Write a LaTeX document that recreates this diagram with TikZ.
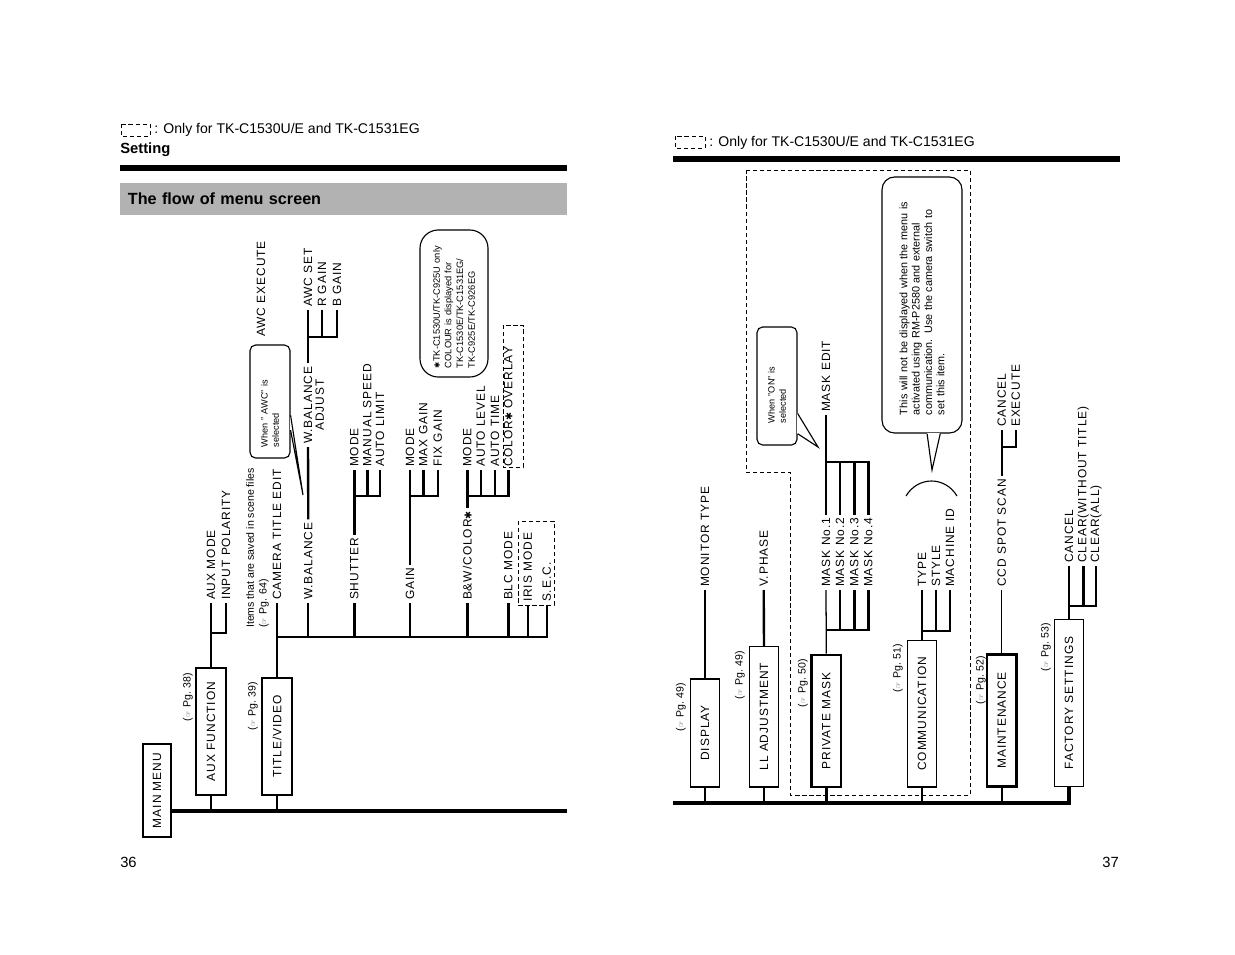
\documentclass[tikz,border=0pt]{standalone}
\usepackage{fontspec}
\setmainfont{Liberation Sans}
\newfontfamily\labfont[LetterSpace=8]{Liberation Sans}
\newfontfamily\symfont{DejaVu Sans}
\newfontfamily\smallsym[Scale=0.8]{DejaVu Sans}
\usetikzlibrary{calc}
\newcommand\labsize{\labfont\fontsize{8.5pt}{10pt}\selectfont}
\newcommand\notesize{\fontsize{6.5pt}{8pt}\selectfont}
\newcommand\hastr{{\smallsym ✱}}
\newcommand\handref[1]{({\symfont\fontsize{5pt}{5pt}\selectfont ☞}\,\,Pg. #1)}
\definecolor{headgray}{gray}{0.70}
\tikzset{
  lab/.style={rotate=90, anchor=west, inner xsep=2pt, inner ysep=1pt, font=\labsize},
  menubox/.style={draw, rotate=90, line width=1.1pt, font=\labsize, inner sep=0pt, minimum height=0.73cm},
  pgnote/.style={rotate=90, inner sep=0pt, font=\fontsize{7.5pt}{9pt}\selectfont},
  conn/.style={line width=1.7pt},
  thinconn/.style={line width=0.9pt},
  busline/.style={line width=2.2pt},
  onlybox/.style={draw, line width=0.7pt, dash pattern=on 3pt off 2pt},
  callout/.style={draw, fill=white, rotate=90, line width=0.8pt, rounded corners=4pt, align=left, inner sep=0pt, font=\notesize},
}

\begin{document}
\begin{tikzpicture}[x=0.025cm, y=-0.025cm]
  \useasboundingbox (0,0) rectangle (1235,954);

  % ---------- page 36 ----------
  \draw[onlybox] (121,124) rectangle (150,136);
  \node[anchor=west, inner sep=0pt, font=\fontsize{10pt}{12pt}\selectfont] (onlyl) at (154,130) {: Only for TK-C1530U/E and TK-C1531EG};
  \node[anchor=west, inner sep=0pt, font=\bfseries\fontsize{10.5pt}{12pt}\selectfont] (setting) at (120,150) {Setting};
  \fill (120,165) rectangle (567,171);
  \node[fill=headgray, minimum width=11.175cm, minimum height=0.8cm, inner xsep=0.2cm, text width=10.775cm, align=left,
    font=\bfseries\fontsize{11.5pt}{13pt}\selectfont] (flowbar) at (343.5,199) {The flow of menu screen};

  \node[menubox, line width=1.8pt, minimum width=2.325cm, minimum height=0.7cm] (mainmenu) at (157,790.5) {MAIN MENU};
  \node[menubox, minimum width=3.175cm, minimum height=0.75cm] (auxfn) at (211,731.5) {AUX FUNCTION};
  \node[menubox, minimum width=2.925cm, minimum height=0.75cm] (titlevid) at (277,736.5) {TITLE/VIDEO};
  \node[pgnote] (pg38) at (188,697) {\handref{38}};
  \node[pgnote] (pg39) at (253,706) {\handref{39}};
  \coordinate (lbus) at (567,811);
  \draw[busline] (mainmenu.south |- lbus) -- (lbus);
  \draw[conn] (auxfn.west) -- (auxfn.west |- lbus);
  \draw[conn] (titlevid.west) -- (titlevid.west |- lbus);

  % aux function
  \node[lab] (auxmode) at (211,603) {AUX MODE};
  \node[lab] (inpol) at (226,603) {INPUT POLARITY};
  \draw[conn] (auxfn.east) -- (auxmode.west);
  \draw[conn] (auxfn.east |- 0,633) -| (inpol.west);

  % title/video
  \node[rotate=90, anchor=north west, align=left, inner sep=0pt, font=\fontsize{7.5pt}{9pt}\selectfont] (scenenote)
    at (246,628) {Items that are saved in scene files\\\handref{64}};
  \coordinate (tvbus) at (277,637);
  \node[lab] (camtitle) at (277,603) {CAMERA TITLE EDIT};
  \node[lab] (wbal) at (308.3,603) {W.BALANCE};
  \node[lab] (shutter) at (354.3,603) {SHUTTER};
  \node[lab] (gain) at (410,603) {GAIN};
  \node[lab] (bwcolor) at (467.3,603) {B\&W/COLOR\hastr};
  \node[lab] (blc) at (508.3,603) {BLC MODE};
  \node[lab] (iris) at (527.7,605) {IRIS MODE};
  \node[lab] (sec) at (546.7,605) {S.E.C.};
  \draw[conn] (titlevid.east) -- (camtitle.west);
  \foreach \n in {wbal,shutter,gain,bwcolor,blc,iris,sec}
    \draw[conn] (tvbus) -| (\n.west);
  \draw[onlybox] (518,521) rectangle (554,605);

  % w.balance
  \node[lab] (wbadj) at (308,447) {W.BALANCE};
  \node[rotate=90, anchor=north, inner sep=1pt, font=\labsize] (adjust) at (wbadj.south) {ADJUST};
  \node[lab] (awcset) at (308,310) {AWC SET};
  \node[lab] (rgain) at (322,310) {R GAIN};
  \node[lab] (bgain) at (337,310) {B GAIN};
  \node[lab] (awcexec) at (261,340) {AWC EXECUTE};
  \draw[conn] (wbal.east) -- (wbadj.west);
  \draw[conn] (wbadj.east) -- (awcset.west);
  \draw[conn] (wbadj.east |- 0,337) -| (rgain.west);
  \draw[conn] (wbadj.east |- 0,337) -| (bgain.west);
  \node[callout, minimum width=2.825cm, minimum height=1.0cm, text width=2.275cm] (awcnote) at (270,401.5) {When " AWC" is\\selected};
  \coordinate (awctip) at (303,495);
  \coordinate (awca) at ($(awcnote.south west)!0.25!(awcnote.south east)$);
  \coordinate (awcb) at ($(awcnote.south west)!0.38!(awcnote.south east)$);
  \draw[white, line width=1.4pt] (awca) -- (awcb);
  \draw[line width=0.8pt] (awca) -- (awctip) -- (awcb);

  % shutter
  \node[lab] (smode) at (354.3,470) {MODE};
  \node[lab] (mspeed) at (367.3,470) {MANUAL SPEED};
  \node[lab] (alimit) at (380,470) {AUTO LIMIT};
  \draw[conn] (shutter.east) -- (smode.west);
  \draw[conn] (shutter.east |- 0,496) -| (mspeed.west);
  \draw[conn] (shutter.east |- 0,496) -| (alimit.west);

  % gain
  \node[lab] (gmode) at (410,470) {MODE};
  \node[lab] (maxgain) at (423.3,470) {MAX GAIN};
  \node[lab] (fixgain) at (437.7,470) {FIX GAIN};
  \draw[conn] (gain.east) -- (gmode.west);
  \draw[conn] (gain.east |- 0,496) -| (maxgain.west);
  \draw[conn] (gain.east |- 0,496) -| (fixgain.west);

  % b&w/color
  \node[lab] (bmode) at (467.3,470) {MODE};
  \node[lab] (alevel) at (480.7,470) {AUTO LEVEL};
  \node[lab] (atime) at (495,470) {AUTO TIME};
  \node[lab] (overlay) at (508.3,470) {COLOR\hastr\ OVERLAY};
  \draw[conn] (bwcolor.east) -- (bmode.west);
  \foreach \n in {alevel,atime,overlay}
    \draw[conn] (bwcolor.east |- 0,496) -| (\n.west);
  \draw[onlybox] (503,325) rectangle (523,467);
  \node[callout, rounded corners=13pt, minimum width=3.675cm, minimum height=1.7cm, text width=3.225cm,
    font=\fontsize{6.6pt}{8.3pt}\selectfont] (modelnote) at (454,303.5)
    {\hastr TK-C1530U/TK-C925U only\\COLOUR is displayed for\\TK-C1530E/TK-C1531EG/\\TK-C925E/TK-C926EG};

  \node[anchor=west, inner sep=0pt, font=\fontsize{10.5pt}{12pt}\selectfont] (pgleft) at (120,862) {36};

  % ---------- page 37 ----------
  \draw[onlybox] (675,136) rectangle (705,148);
  \node[anchor=west, inner sep=0pt, font=\fontsize{10pt}{12pt}\selectfont] (onlyr) at (709,143) {: Only for TK-C1530U/E and TK-C1531EG};
  \fill (673,156) rectangle (1120,162);
  \draw[onlybox] (746,170) -- (970,170) -- (970,795) -- (790,795) -- (790,472) -- (746,472) -- cycle;

  \node[menubox, minimum width=2.7cm] (display) at (705,733) {DISPLAY};
  \node[menubox, minimum width=3.5cm] (lladj) at (764,716.7) {LL ADJUSTMENT};
  \node[menubox, line width=1.8pt, minimum width=3.3cm] (privmask) at (826.3,721) {PRIVATE MASK};
  \node[menubox, minimum width=3.65cm] (comm) at (922,713.7) {COMMUNICATION};
  \node[menubox, line width=1.8pt, minimum width=3.3cm] (maint) at (1001.7,720.5) {MAINTENANCE};
  \node[menubox, minimum width=4.175cm] (factory) at (1069,703) {FACTORY SETTINGS};
  \node[pgnote] (pg49a) at (681,707) {\handref{49}};
  \node[pgnote] (pg49b) at (740,675) {\handref{49}};
  \node[pgnote] (pg50) at (803,683) {\handref{50}};
  \node[pgnote] (pg51) at (898,668) {\handref{51}};
  \node[pgnote] (pg52) at (981,680) {\handref{52}};
  \node[pgnote] (pg53) at (1046,647) {\handref{53}};

  \coordinate (rbus) at (673,803);
  \draw[busline] (rbus) -- (factory.west |- rbus) -- (factory.west);
  \foreach \b in {display,lladj,privmask,comm,maint}
    \draw[conn] (\b.west) -- (\b.west |- rbus);

  % display, ll adjustment
  \node[lab] (monitor) at (705,590) {MONITOR TYPE};
  \node[lab] (vphase) at (763.7,590) {V.PHASE};
  \draw[conn] (display.east) -- (monitor.west);
  \draw[conn] (lladj.east) -- (vphase.west);

  % private mask
  \node[lab] (mask1) at (826,590) {MASK No.1};
  \node[lab] (mask2) at (840,590) {MASK No.2};
  \node[lab] (mask3) at (854.3,590) {MASK No.3};
  \node[lab] (mask4) at (868.3,590) {MASK No.4};
  \node[lab] (maskedit) at (826,415) {MASK EDIT};
  \draw[thinconn] (privmask.east) -- (mask1.west);
  \draw[thinconn] (mask1.east) -- (maskedit.west);
  \foreach \n in {mask2,mask3,mask4} {
    \draw[conn] (privmask.east |- 0,630) -| (\n.west);
    \draw[conn] (mask1.east |- 0,462) -| (\n.east);
  }
  \node[callout, minimum width=2.95cm, minimum height=1.0cm, text width=1.85cm] (onnote) at (777,386) {When "ON" is\\selected};
  \coordinate (ontip) at (818,447);
  \coordinate (ona) at ($(onnote.south west)!0.10!(onnote.south east)$);
  \coordinate (onb) at ($(onnote.south west)!0.27!(onnote.south east)$);
  \draw[white, line width=1.4pt] (ona) -- (onb);
  \draw[line width=0.8pt] (ona) -- (ontip) -- (onb);

  % communication
  \node[lab] (type) at (922,590) {TYPE};
  \node[lab] (style) at (936,590) {STYLE};
  \node[lab] (machid) at (950,590) {MACHINE ID};
  \draw[thinconn] (comm.east) -- (type.west);
  \draw[conn] (comm.east |- 0,631) -| (style.west);
  \draw[conn] (comm.east |- 0,631) -| (machid.west);
  \draw[line width=0.8pt] (906,496) .. controls (918,476) and (945,476) .. (957,496);
  \node[callout, rounded corners=9pt, minimum width=6.4cm, minimum height=2.0cm, text width=5.5cm,
    font=\fontsize{7.7pt}{8.8pt}\selectfont] (p2580note) at (922,305)
    {This will not be displayed when the menu is\\activated using RM-P2580 and external\\communication. Use the camera switch to\\set this item.};
  \coordinate (p2580tip) at (932,470);
  \coordinate (p2580a) at ($(p2580note.north west)!0.5625!(p2580note.south west)$);
  \coordinate (p2580b) at ($(p2580note.north west)!0.725!(p2580note.south west)$);
  \draw[white, line width=1.4pt] (p2580a) -- (p2580b);
  \draw[line width=0.8pt] (p2580a) -- (p2580tip) -- (p2580b);

  % maintenance
  \node[lab] (ccd) at (1001.7,590) {CCD SPOT SCAN};
  \node[lab] (mcancel) at (1001.7,430) {CANCEL};
  \node[lab] (mexec) at (1015.7,430) {EXECUTE};
  \draw[thinconn] (maint.east) -- (ccd.west);
  \draw[conn] (ccd.east) -- (mcancel.west);
  \draw[conn] (ccd.east |- 0,447) -| (mexec.west);

  % factory settings
  \node[lab] (fcancel) at (1069,566) {CANCEL};
  \node[lab] (fclear) at (1083.3,566) {CLEAR(WITHOUT TITLE)};
  \node[lab] (fclearall) at (1096,566) {CLEAR(ALL)};
  \draw[conn] (factory.east) -- (fcancel.west);
  \draw[conn] (factory.east |- 0,606) -| (fclear.west);
  \draw[conn] (factory.east |- 0,606) -| (fclearall.west);

  \node[anchor=east, inner sep=0pt, font=\fontsize{10.5pt}{12pt}\selectfont] (pgright) at (1119,862) {37};
\end{tikzpicture}
\end{document}
